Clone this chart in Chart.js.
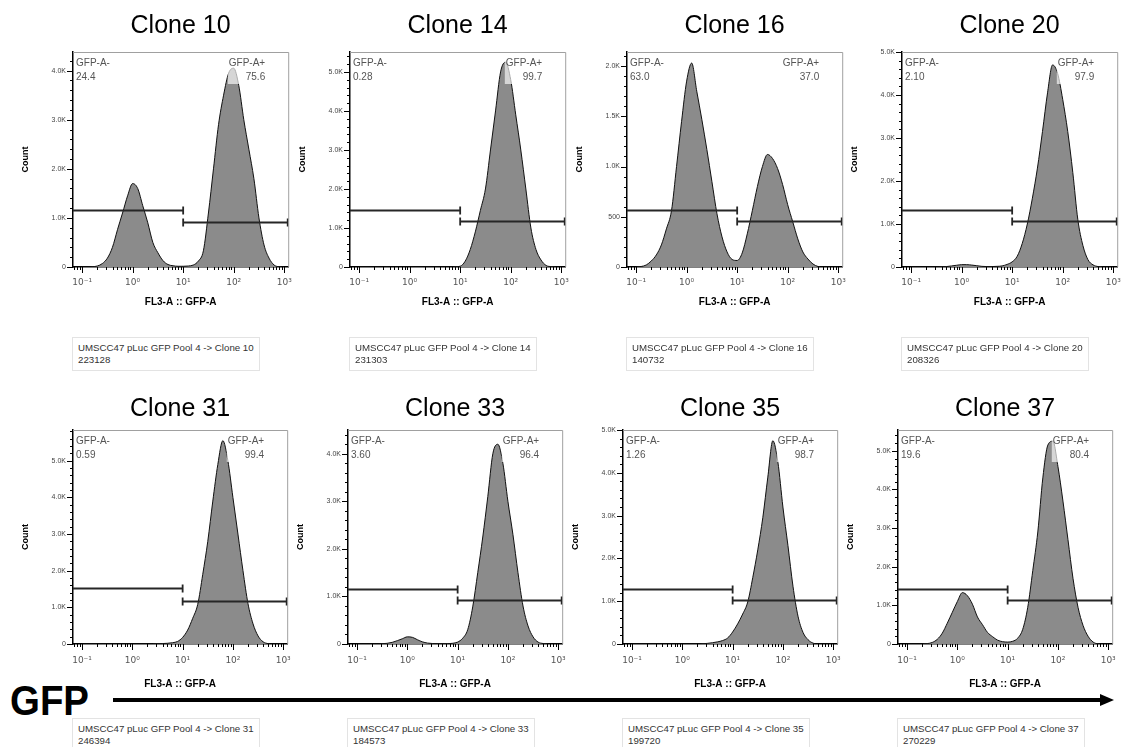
<!DOCTYPE html>
<html>
<head>
<meta charset="utf-8">
<script src="https://cdn.jsdelivr.net/npm/chart.js@4.4.1/dist/chart.umd.min.js"></script>
<style>
  html, body { margin: 0; padding: 0; background: #fff; }
  body { width: 1125px; height: 747px; position: relative; overflow: hidden; font-family: "Liberation Sans", Arial, sans-serif; }
  canvas.panel { position: absolute; }
  .info { position: absolute; width: 188px; height: 34px; box-sizing: border-box; border: 1px solid #e3e3e3;
          padding: 4px 0 0 5px; font-size: 9.7px; line-height: 12px; color: #333; white-space: nowrap; }
  svg.gfp { position: absolute; left: 0; top: 0; }
</style>
</head>
<body>
<svg class="gfp" width="1125" height="747">
  <text x="10" y="715" font-family="Liberation Sans, Arial" font-weight="bold" font-size="42" textLength="79" lengthAdjust="spacingAndGlyphs">GFP</text>
  <line x1="113" y1="700" x2="1102" y2="700" stroke="#000" stroke-width="4"/>
  <polygon points="1100,694 1114,700 1100,706" fill="#000"/>
</svg>
<script>
// histogram bins, log10 of FL3-A :: GFP-A
const binExponents = [-1.0, -0.9, -0.8, -0.7, -0.6, -0.5, -0.4, -0.3, -0.2, -0.1,
                      0.0, 0.1, 0.2, 0.3, 0.4, 0.5, 0.6, 0.7, 0.8, 0.9,
                      1.0, 1.1, 1.2, 1.3, 1.4, 1.5, 1.6, 1.7, 1.8, 1.9,
                      2.0, 2.1, 2.2, 2.3, 2.4, 2.5, 2.6, 2.7, 2.8, 2.9, 3.0];

const clone10 = [0, 0, 5, 20, 70, 180, 400, 760, 1100, 1450,
                 1700, 1600, 1250, 900, 500, 290, 130, 50, 25, 15,
                 15, 20, 40, 120, 330, 1100, 2000, 2900, 3500, 3950,
                 4050, 3700, 3000, 2400, 1800, 1000, 450, 180, 40, 5, 0];
const clone14 = [0, 0, 0, 0, 0, 0, 0, 0, 0, 0,
                 0, 0, 0, 0, 0, 0, 0, 0, 0, 5,
                 20, 150, 450, 900, 1450, 2000, 3000, 4000, 5000, 5250,
                 4800, 3900, 3000, 2000, 1000, 450, 180, 40, 10, 0, 0];
const clone16 = [0, 5, 20, 60, 120, 220, 380, 560, 1000, 1450,
                 1850, 2030, 1750, 1470, 1170, 850, 530, 300, 150, 75,
                 65, 140, 330, 560, 800, 1000, 1120, 1080, 980, 820,
                 620, 450, 280, 150, 80, 30, 5, 0, 0, 0, 0];
const clone20 = [0, 0, 0, 0, 0, 0, 5, 10, 25, 40,
                 55, 55, 45, 30, 15, 10, 10, 15, 25, 60,
                 120, 250, 550, 1000, 1600, 2300, 3150, 4050, 4700, 4500,
                 3900, 3150, 2200, 1100, 500, 170, 50, 10, 0, 0, 0];
const clone31 = [0, 0, 0, 0, 0, 0, 0, 0, 0, 0,
                 0, 0, 0, 0, 3, 8, 12, 20, 35, 70,
                 180, 380, 700, 1080, 1900, 2800, 3900, 4900, 5550, 5000,
                 4000, 3000, 2000, 1100, 550, 220, 60, 10, 0, 0, 0];
const clone33 = [0, 0, 0, 0, 0, 5, 15, 35, 70, 110,
                 150, 140, 90, 45, 20, 10, 5, 5, 8, 15,
                 40, 120, 300, 780, 1500, 2250, 3100, 4000, 4200, 3800,
                 3000, 2300, 1500, 800, 380, 150, 40, 10, 0, 0, 0];
const clone35 = [0, 0, 0, 0, 0, 0, 0, 0, 0, 0,
                 0, 0, 0, 0, 5, 15, 30, 50, 80, 140,
                 280, 470, 700, 980, 1550, 2200, 2950, 3900, 4750, 4250,
                 3200, 2300, 1350, 650, 270, 100, 20, 0, 0, 0, 0];
const clone37 = [0, 0, 0, 0, 10, 40, 120, 280, 540, 820,
                 1100, 1330, 1250, 1030, 700, 500, 300, 190, 100, 60,
                 50, 70, 150, 380, 950, 1900, 2900, 4300, 5150, 5250,
                 4600, 3700, 2700, 1700, 950, 480, 200, 50, 5, 0, 0];

const cloneNames = ['Clone 10', 'Clone 14', 'Clone 16', 'Clone 20', 'Clone 31', 'Clone 33', 'Clone 35', 'Clone 37'];
const cloneCounts = [clone10, clone14, clone16, clone20, clone31, clone33, clone35, clone37];
const negPercents = ['24.4', '0.28', '63.0', '2.10', '0.59', '3.60', '1.26', '19.6'];
const posPercents = ['75.6', '99.7', '37.0', '97.9', '99.4', '96.4', '98.7', '80.4'];
const eventTotals = ['223128', '231303', '140732', '208326', '246394', '184573', '199720', '270229'];
const yAxisMax = [4380, 5510, 2140, 5000, 5840, 4500, 5000, 5540];
const yMajorStep = [1000, 1000, 500, 1000, 1000, 1000, 1000, 1000];
const yMinorStep = [200, 200, 100, 200, 200, 200, 200, 200];
const negGateLevel = [1160, 1460, 570, 1330, 1520, 1150, 1290, 1420];
const posGateLevel = [920, 1180, 460, 1070, 1170, 920, 1030, 1140];
const gateSplitValue = 10;

const decadeTickValues = [0.1, 1, 10, 100, 1000];
const decadeTickLabels = ['10\u207B\u00B9', '10\u2070', '10\u00B9', '10\u00B2', '10\u00B3'];
const xAxisMin = 0.066, xAxisMax = 1200;

// page layout
const plotLeft = [73, 350, 627, 902, 73, 348, 623, 898];
const rowLayout = [
  { plotTop: 52, plotHeight: 215, titlePad: { top: 11, bottom: 11 }, tickPad: 10, xTitlePad: 9, infoTop: 337 },
  { plotTop: 430, plotHeight: 214, titlePad: { top: 16, bottom: 6 }, tickPad: 11, xTitlePad: 4, infoTop: 718 }
];
const Y_AXIS_W = 73, X_AXIS_H = 50, TITLE_H = 52, PLOT_W = 217, RIGHT_PAD = 12;

const narrowBold = '"Liberation Sans Narrow", "Liberation Sans", Arial, sans-serif';

function countLabel(v) {
  if (v === 0) return '0';
  if (v < 1000) return String(v);
  return (v / 1000).toFixed(1) + 'K';
}

const flowOverlay = {
  id: 'flowOverlay',
  afterDatasetsDraw(chart, args, o) {
    const { ctx, chartArea: a, scales: { x, y } } = chart;
    ctx.save();
    // gates
    const gx = x.getPixelForValue(o.split);
    const ny = Math.round(y.getPixelForValue(o.negGate)) + 0.5;
    const py = Math.round(y.getPixelForValue(o.posGate)) + 0.5;
    ctx.strokeStyle = '#262626';
    ctx.lineWidth = 1.8;
    ctx.beginPath();
    ctx.moveTo(a.left, ny); ctx.lineTo(gx, ny);
    ctx.moveTo(gx, ny - 4); ctx.lineTo(gx, ny + 4);
    ctx.moveTo(gx, py); ctx.lineTo(a.right, py);
    ctx.moveTo(gx, py - 4); ctx.lineTo(gx, py + 4);
    ctx.moveTo(a.right - 0.5, py - 4); ctx.lineTo(a.right - 0.5, py + 4);
    ctx.stroke();
    // gate labels
    ctx.font = '10px "Liberation Sans", Arial, sans-serif';
    ctx.textBaseline = 'middle';
    const rx = a.right - 23;
    const w = Math.max(ctx.measureText('GFP-A+').width, ctx.measureText(o.posValue).width);
    ctx.fillStyle = 'rgba(255,255,255,0.65)';
    ctx.fillRect(rx - w - 1, a.top + 3, w + 3, 29);
    ctx.fillStyle = '#555';
    ctx.textAlign = 'left';
    ctx.fillText('GFP-A-', a.left + 3, a.top + 11);
    ctx.fillText(o.negValue, a.left + 3, a.top + 25);
    ctx.textAlign = 'right';
    ctx.fillText('GFP-A+', rx, a.top + 11);
    ctx.fillText(o.posValue, rx, a.top + 25);
    ctx.restore();
  },
  afterDraw(chart, args, o) {
    const { ctx, chartArea: a, scales: { x, y } } = chart;
    ctx.save();
    ctx.strokeStyle = '#a0a0a0';
    ctx.lineWidth = 1;
    ctx.beginPath();
    ctx.moveTo(a.left, a.top + 0.5);
    ctx.lineTo(a.right + 0.5, a.top + 0.5);
    ctx.lineTo(a.right + 0.5, a.bottom);
    ctx.stroke();
    ctx.strokeStyle = '#000';
    ctx.beginPath();
    y.ticks.forEach(t => {
      const p = Math.round(y.getPixelForValue(t.value)) + 0.5;
      const len = t.value % o.major === 0 ? 6 : 3;
      ctx.moveTo(a.left, p); ctx.lineTo(a.left - len, p);
    });
    x.ticks.forEach(t => {
      const p = Math.round(x.getPixelForValue(t.value)) + 0.5;
      const big = decadeTickValues.some(d => Math.abs(d - t.value) / d < 1e-6);
      ctx.moveTo(p, a.bottom); ctx.lineTo(p, a.bottom + (big ? 6 : 3));
    });
    ctx.stroke();
    ctx.restore();
  }
};

const xTickValues = [0.07, 0.08, 0.09];
decadeTickValues.slice(0, 4).forEach(d => { for (let m = 1; m < 10; m++) xTickValues.push(d * m); });
xTickValues.push(1000);

cloneNames.forEach((name, i) => {
  const row = rowLayout[i < 4 ? 0 : 1];
  const cv = document.createElement('canvas');
  cv.className = 'panel';
  cv.width = Y_AXIS_W + PLOT_W + RIGHT_PAD;
  cv.height = TITLE_H + row.plotHeight + X_AXIS_H;
  cv.style.left = (plotLeft[i] - Y_AXIS_W) + 'px';
  cv.style.top = (row.plotTop - TITLE_H) + 'px';
  document.body.appendChild(cv);

  const info = document.createElement('div');
  info.className = 'info';
  info.style.left = (plotLeft[i] - 1) + 'px';
  info.style.top = row.infoTop + 'px';
  info.innerHTML = 'UMSCC47 pLuc GFP Pool 4 -&gt; ' + name + '<br>' + eventTotals[i];
  document.body.appendChild(info);

  const yTicks = [];
  for (let v = 0; v <= yAxisMax[i]; v += yMinorStep[i]) yTicks.push(v);

  new Chart(cv, {
    type: 'line',
    data: {
      datasets: [{
        data: binExponents.map((e, k) => ({ x: Math.pow(10, e), y: cloneCounts[i][k] })),
        borderColor: '#111',
        borderWidth: 1,
        backgroundColor: '#8b8b8b',
        fill: 'origin',
        pointRadius: 0,
        cubicInterpolationMode: 'monotone'
      }]
    },
    options: {
      responsive: false,
      animation: false,
      events: [],
      layout: { padding: { left: 0, right: RIGHT_PAD, top: 0, bottom: 0 } },
      plugins: {
        legend: { display: false },
        tooltip: { enabled: false },
        title: {
          display: true, fullSize: false, text: name, color: '#000',
          font: { family: '"Liberation Sans", Arial, sans-serif', size: 25, weight: 'normal', lineHeight: 1.2 },
          padding: row.titlePad
        },
        flowOverlay: {
          split: gateSplitValue, negGate: negGateLevel[i], posGate: posGateLevel[i],
          negValue: negPercents[i], posValue: posPercents[i], major: yMajorStep[i]
        }
      },
      scales: {
        x: {
          type: 'logarithmic', min: xAxisMin, max: xAxisMax,
          afterBuildTicks: s => { s.ticks = xTickValues.map(v => ({ value: v })); },
          afterFit: s => { s.height = X_AXIS_H; },
          grid: { display: false, drawTicks: false },
          border: { display: true, color: '#000', width: 1.5 },
          ticks: {
            autoSkip: false, maxRotation: 0, minRotation: 0, padding: row.tickPad, color: '#555',
            font: { family: '"DejaVu Sans", sans-serif', size: 9 },
            callback: v => {
              const k = decadeTickValues.findIndex(d => Math.abs(d - v) / d < 1e-6);
              return k >= 0 ? decadeTickLabels[k] : '';
            }
          },
          title: {
            display: true, text: 'FL3-A :: GFP-A', color: '#000',
            font: { family: narrowBold, size: 10, weight: 'bold', lineHeight: 1.2 },
            padding: { top: 0, bottom: row.xTitlePad }
          }
        },
        y: {
          min: 0, max: yAxisMax[i],
          afterBuildTicks: s => { s.ticks = yTicks.map(v => ({ value: v })); },
          afterFit: s => { s.width = Y_AXIS_W; },
          grid: { display: false, drawTicks: false },
          border: { display: true, color: '#000', width: 1.5 },
          ticks: {
            autoSkip: false, padding: 7, color: '#444',
            font: { family: '"Liberation Sans", Arial, sans-serif', size: 7 },
            callback: v => (v % yMajorStep[i] === 0 ? countLabel(v) : '')
          },
          title: {
            display: true, text: 'Count', color: '#000',
            font: { family: narrowBold, size: 9, weight: 'bold', lineHeight: 1.2 },
            padding: { top: 20, bottom: 0 }
          }
        }
      }
    },
    plugins: [flowOverlay]
  });
});
</script>
</body>
</html>
